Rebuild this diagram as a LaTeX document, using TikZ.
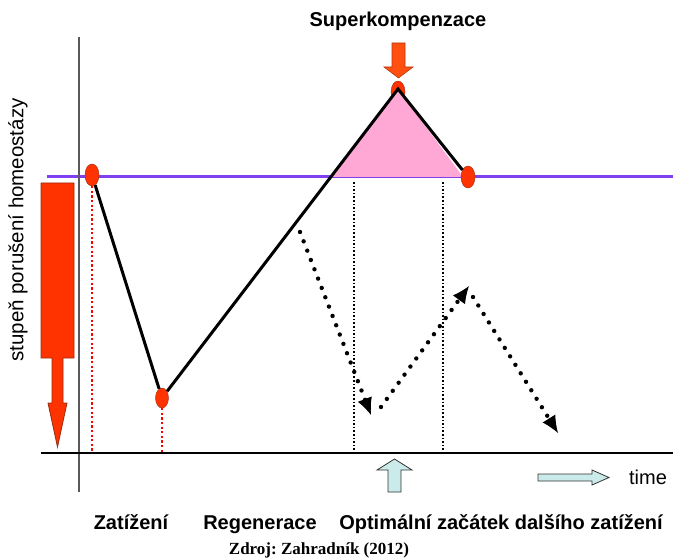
\documentclass[tikz,border=0pt]{standalone}
\usepackage{xcolor}
\usepackage{fontspec}
\setmainfont{Liberation Serif}
\setsansfont{Liberation Sans}
\usepackage{tikz}
\usetikzlibrary{arrows.meta,shapes.geometric,positioning,calc}
\definecolor{loadred}{HTML}{FF3300}
\definecolor{darkred}{HTML}{9A2A10}
\definecolor{supcol}{HTML}{FF5010}
\definecolor{pink}{HTML}{FFA8D6}
\definecolor{violet}{HTML}{8040F0}
\definecolor{paleblue}{HTML}{CBEAEA}
\frenchspacing

\begin{document}
\begin{tikzpicture}[x=1pt,y=-1pt,>=Latex,
  dot/.style={ellipse,draw=darkred,fill=loadred,minimum width=14pt,minimum height=22pt,inner sep=0pt},
  lbl/.style={font=\fontsize{20}{24}\selectfont\sffamily\bfseries,anchor=base},
  txt/.style={font=\fontsize{20}{24}\selectfont\sffamily},
  dotline/.style={line width=4.4pt,dash pattern=on 0pt off 10pt,line cap=round,shorten >=12pt},
  dottip/.style={line width=1pt,-{Latex[length=17pt,width=15pt]}},
  blockarrow/.style={draw=gray!40!black,fill=paleblue,line width=.8pt}]
\useasboundingbox (0,0) rectangle (673,559);
\draw[violet,line width=3pt] (47,177)--(673,177);
\draw[gray!70!black,line width=1.3pt] (79,37)--(79,492);
\draw[line width=1.2pt] (41,453)--(673,453);
\node[txt,rotate=90,font=\fontsize{20.5}{24}\selectfont\sffamily] (ylab) at (18,230) {stupeň porušení homeostázy};
\draw[draw=darkred,fill=loadred,line width=.8pt] (41,183)--(74,183)--(74,358)--(63,358)--(63,403)--(67,403)
  --(57.5,447)--(48,403)--(52,403)--(52,358)--(41,358)--cycle;
% load and recovery points
\node[dot] (zat) at (92,175) {};
\node[dot,minimum width=13pt,minimum height=20pt] (reg) at (162,398) {};
\node[dot] (sup) at (398,92) {};
\coordinate (apex) at (398,89);
\draw[red,line width=1.8pt,dash pattern=on 2.2pt off 2.4pt] (zat.south)--(zat.south|-0,453);
\draw[red,line width=1.8pt,dash pattern=on 2.2pt off 2.4pt] (reg.south)--(reg.south|-0,453);
\draw[line width=1.4pt,dash pattern=on 1.6pt off 2pt] (354,182)--(354,453);
\draw[line width=1.4pt,dash pattern=on 1.6pt off 2pt] (443,182)--(443,453);
\fill[pink] (332,177)--(apex)--(463,177)--cycle;
\node[dot] (konec) at (468,177) {};
\draw[line width=3pt] (zat)--(reg);
\draw[line width=3pt] (reg)--(apex)--(konec);
% further loads
\coordinate (a1) at (300,232);
\coordinate (a2) at (371,415);
\coordinate (b1) at (381,407);
\coordinate (b2) at (469,286);
\coordinate (c1) at (473,297);
\coordinate (c2) at (558,433);
\foreach \s/\e in {a1/a2,b1/b2,c1/c2}{
  \draw[dotline] (\s)--(\e);
  \draw[dottip] ($(\e)!17pt!(\s)$)--(\e);
}
\draw[draw=supcol!70!black,fill=supcol,line width=.6pt] (392,43)--(405,43)--(405,67)--(413,67)--(398.5,78)
  --(384,67)--(392,67)--cycle;
\node[lbl] (super) at (398,27) {Superkompenzace};
\draw[blockarrow] (388,492)--(388,470)--(377,470)--(394.5,459)--(412,470)--(401,470)--(401,492)--cycle;
\draw[blockarrow] (538,474)--(592,474)--(592,470)--(609,477.5)--(592,485)--(592,481)--(538,481)--cycle;
\node[txt] (time) at (648,477) {time};
\node[lbl] (zatl) at (131,529) {Zatížení};
\node[lbl] (regl) at (260,529) {Regenerace};
\node[lbl] (optl) at (501,529) {Optimální začátek dalšího zatížení};
\node[font=\fontsize{17}{20}\selectfont\rmfamily\bfseries,anchor=base] (zdroj) at (319,554) {Zdroj: Zahradník (2012)};
\end{tikzpicture}
\end{document}
